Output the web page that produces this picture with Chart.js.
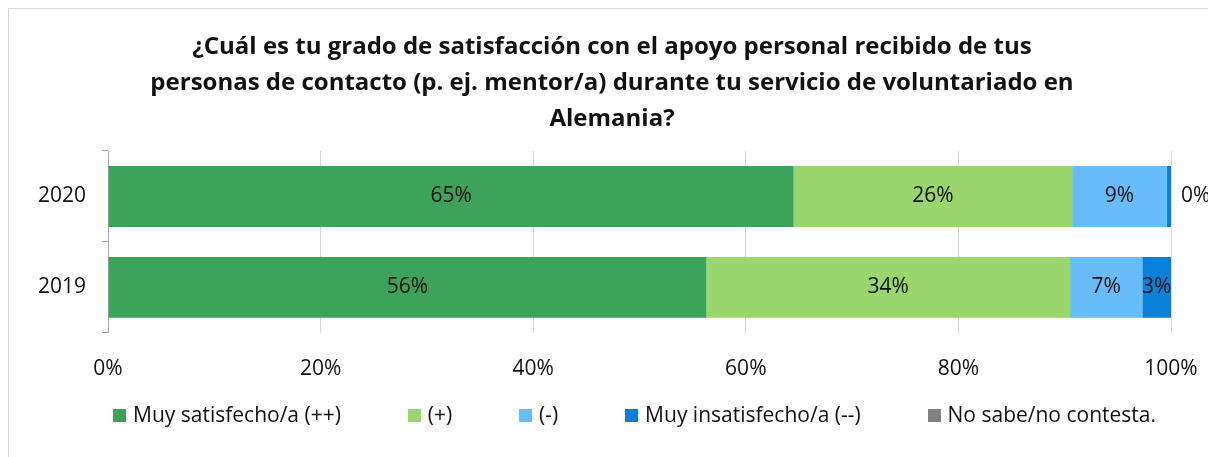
<!DOCTYPE html>
<html>
<head>
<meta charset="utf-8">
<script src="https://cdn.jsdelivr.net/npm/chart.js@4.4.0/dist/chart.umd.min.js"></script>
<style>
  html, body { margin: 0; padding: 0; background: #fff; overflow: hidden; }
  .frame { position: absolute; left: 8px; top: 8px; width: 1220px; height: 470px; border: 1px solid #d9d9d9; }
  .wrap { position: absolute; left: 0; top: 0; width: 1208px; height: 457px; }
  .legend {
    position: absolute; left: 113px; width: 1043px; top: 401px; height: 26px;
    display: flex; justify-content: space-between; align-items: center;
    font-family: 'Open Sans', 'DejaVu Sans', sans-serif; font-size: 21px; color: #111;
    white-space: nowrap;
  }
  .legend span.box { display: inline-block; width: 13px; height: 13px; margin-right: 7px; vertical-align: middle; position: relative; top: -1px; }
</style>
</head>
<body>
<div class="frame"></div>
<div class="wrap"><canvas id="chart"></canvas></div>
<div class="legend" id="legend"></div>
<script>
/* Satisfaction with personal support, 2020 vs 2019 — 100% stacked bars. */

const titleLines = [
  "¿Cuál es tu grado de satisfacción con el apoyo personal recibido de tus",
  "personas de contacto (p. ej. mentor/a) durante tu servicio de voluntariado en",
  "Alemania?",
];
const years = ["2020", "2019"];
const seriesNames = ["Muy satisfecho/a (++)", "(+)", "(-)", "Muy insatisfecho/a (--)", "No sabe/no contesta."];
const muySatisfecho = [64.5, 56.3];
const satisfecho = [26.2, 34.2];
const insatisfecho = [8.9, 6.8];
const muyInsatisfecho = [0.4, 2.7];
const noSabe = [0, 0];
const xTicks = [0, 20, 40, 60, 80, 100];

const colors = ["#3da25a", "#9bd56e", "#66bdfa", "#0b80d8", "#808080"];
const FONT = "'Open Sans', 'DejaVu Sans', sans-serif";

// Percent labels inside each segment; tiny segments get the label to the right.
const segmentLabels = {
  id: "segmentLabels",
  afterDatasetsDraw(chart) {
    const ctx = chart.ctx;
    ctx.save();
    ctx.font = "21px " + FONT;
    ctx.fillStyle = "#111";
    ctx.textBaseline = "middle";
    chart.data.datasets.forEach((ds, di) => {
      const meta = chart.getDatasetMeta(di);
      if (meta.hidden) return;
      meta.data.forEach((bar, i) => {
        const v = ds.data[i];
        if (!v) return;
        const text = Math.round(v) + "%";
        const w = bar.x - bar.base;
        if (w < 12) {
          ctx.textAlign = "left";
          ctx.fillText(text, bar.x + 10, bar.y);
        } else {
          ctx.textAlign = "center";
          ctx.fillText(text, (bar.x + bar.base) / 2, bar.y);
        }
      });
    });
    ctx.restore();
  },
};

// Let the category labels reach past the left padding (the title stays centred as in the original).
const unclipY = {
  id: "unclipY",
  afterLayout(chart) { chart.scales.y.left = 0; },
};

const seriesValues = [muySatisfecho, satisfecho, insatisfecho, muyInsatisfecho, noSabe];

new Chart(document.getElementById("chart"), {
  type: "bar",
  data: {
    labels: years,
    datasets: seriesNames.map((name, k) => ({
      label: name,
      data: seriesValues[k],
      backgroundColor: colors[k],
      borderWidth: 0,
      barPercentage: 0.67,
      categoryPercentage: 1,
    })),
  },
  options: {
    indexAxis: "y",
    responsive: true,
    maintainAspectRatio: false,
    animation: false,
    layout: { padding: { left: 53, right: 37, top: 0, bottom: 51 } },
    scales: {
      x: {
        stacked: true,
        min: 0,
        max: 100,
        afterBuildTicks: (scale) => { scale.ticks = xTicks.map((v) => ({ value: v })); },
        afterFit: (scale) => { scale.paddingLeft = 0; scale.paddingRight = 0; },
        grid: { color: "#d9d9d9", drawTicks: false },
        border: { display: false },
        ticks: {
          padding: 24,
          color: "#111",
          font: { family: FONT, size: 21 },
          callback: (v) => v + "%",
        },
      },
      y: {
        stacked: true,
        afterFit: (scale) => { scale.width = 55; },
        grid: { drawOnChartArea: false, drawTicks: true, tickLength: 6, color: "#a6a6a6", offset: true },
        border: { display: true, color: "#a6a6a6", width: 1 },
        ticks: {
          padding: 16,
          color: "#111",
          font: { family: FONT, size: 21 },
        },
      },
    },
    plugins: {
      title: {
        display: true,
        text: titleLines,
        color: "#111",
        font: { family: FONT, size: 24, weight: "bold", lineHeight: 1.5 },
        padding: { top: 29, bottom: 14 },
      },
      legend: { display: false },
      tooltip: { enabled: false },
    },
  },
  plugins: [segmentLabels, unclipY],
});

// Legend row, built from the same series names and colours.
const legendEl = document.getElementById("legend");
seriesNames.forEach((name, k) => {
  const item = document.createElement("div");
  const box = document.createElement("span");
  box.className = "box";
  box.style.background = colors[k];
  item.appendChild(box);
  item.appendChild(document.createTextNode(name));
  legendEl.appendChild(item);
});
</script>
</body>
</html>
